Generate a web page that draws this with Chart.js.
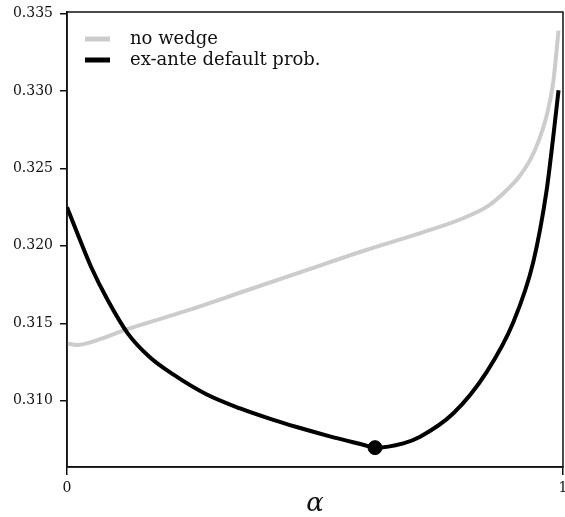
<!DOCTYPE html>
<meta charset="utf-8">
<html lang="en">
<head>
  <title>wedge vs alpha</title>
  <style type="text/css">
  html, body { margin: 0; padding: 0; background: #fff; }
  #wrap { width: 565px; height: 517px; }
  </style>
</head>
<body>
<div id="wrap">
  <canvas id="myChart"></canvas>
</div>

<script src="https://cdn.jsdelivr.net/npm/chart.js"></script>
<script>
  // values
  const seriesNames = ['no wedge', 'ex-ante default prob.'];
  const alphaNoWedge = [0, 0.02, 0.06, 0.12, 0.24, 0.36, 0.48, 0.6, 0.72, 0.8, 0.85, 0.88, 0.91, 0.933, 0.95, 0.967, 0.98, 0.991];
  const noWedge = [0.3137, 0.3136, 0.3139, 0.3146, 0.3158, 0.3171, 0.3184, 0.3197, 0.3209, 0.3218, 0.3226, 0.3234, 0.3244, 0.3255, 0.3267, 0.3284, 0.3305, 0.3339];
  const alphaExAnte = [0, 0.0216, 0.0484, 0.082, 0.1224, 0.1659, 0.214, 0.282, 0.349, 0.416, 0.463, 0.53, 0.597, 0.621, 0.678, 0.712, 0.779, 0.846, 0.9, 0.94, 0.967, 0.98, 0.991];
  const exAnte = [0.3225, 0.32075, 0.31865, 0.3165, 0.31435, 0.31284, 0.3117, 0.3104, 0.3095, 0.30876, 0.3083, 0.3077, 0.30716, 0.30697, 0.30725, 0.30768, 0.30919, 0.31185, 0.31508, 0.31895, 0.32359, 0.32695, 0.33005];
  const optAlpha = [0.621];
  const optValue = [0.30697];
  const xTicks = [0, 1];
  const yTicks = [0.310, 0.315, 0.320, 0.325, 0.330, 0.335];

  const GRAY = '#cccccc';
  const INK = '#000000';
  const SERIF = "'DejaVu Serif', serif";

  function pts(xs, ys) {
    return xs.map((x, i) => ({x: x, y: ys[i]}));
  }

  // legend drawn inside the plot area, top left
  const innerLegend = {
    id: 'innerLegend',
    afterDatasetsDraw(chart) {
      const c = chart.ctx, a = chart.chartArea;
      const cols = [GRAY, INK];
      c.save();
      c.font = '18px ' + SERIF;
      c.textBaseline = 'middle';
      for (let i = 0; i < seriesNames.length; i++) {
        const y = a.top + 27 + i * 21;
        c.fillStyle = cols[i];
        c.fillRect(a.left + 18, y - 2.5, 25, 5);
        c.fillStyle = '#111';
        c.fillText(seriesNames[i], a.left + 63, y);
      }
      c.restore();
    }
  };

  // box round the plot
  const frame = {
    id: 'frame',
    afterDraw(chart) {
      const c = chart.ctx, a = chart.chartArea;
      c.save();
      c.strokeStyle = '#111';
      c.lineWidth = 1.5;
      c.strokeRect(a.left, a.top, a.right - a.left, a.bottom - a.top);
      c.restore();
    }
  };

  const ctx = document.getElementById('myChart');
  const chart = new Chart(ctx, {
    type: 'scatter',
    data: {
      datasets: [{
        label: seriesNames[0],
        data: pts(alphaNoWedge, noWedge),
        borderColor: GRAY,
        backgroundColor: GRAY,
        borderWidth: 4,
        pointRadius: 0,
        showLine: true,
        cubicInterpolationMode: 'monotone',
        order: 2
      }, {
        label: seriesNames[1],
        data: pts(alphaExAnte, exAnte),
        borderColor: INK,
        backgroundColor: INK,
        borderWidth: 4,
        pointRadius: 0,
        showLine: true,
        cubicInterpolationMode: 'monotone',
        order: 1
      }, {
        label: 'optimum',
        data: pts(optAlpha, optValue),
        backgroundColor: INK,
        borderColor: INK,
        pointRadius: 7,
        order: 0
      }]
    },
    options: {
      responsive: true,
      maintainAspectRatio: false,
      animation: false,
      layout: { autoPadding: false, padding: { top: 12, right: 2, left: 0, bottom: 0 } },
      plugins: { legend: { display: false }, tooltip: { enabled: false } },
      scales: {
        x: {
          type: 'linear',
          min: 0, max: 1,
          afterBuildTicks: (axis) => { axis.ticks = xTicks.map(v => ({value: v})); },
          afterFit: (axis) => { axis.height = 50; axis.paddingLeft = 0; axis.paddingRight = 0; },
          grid: { display: true, drawOnChartArea: false, drawTicks: true, tickLength: 8, color: '#111', lineWidth: 1.5 },
          border: { display: true, color: '#111', width: 1.5 },
          ticks: { color: '#111', padding: 5, maxRotation: 0, font: { family: SERIF, size: 14 } },
          title: { display: true, text: 'α', color: '#111', padding: { top: 0, bottom: -3 },
                   font: { family: SERIF, size: 26, style: 'italic' } }
        },
        y: {
          type: 'linear',
          min: 0.30572, max: 0.3351,
          afterBuildTicks: (axis) => { axis.ticks = yTicks.map(v => ({value: v})); },
          afterFit: (axis) => { axis.width = 67; axis.paddingTop = 0; axis.paddingBottom = 0; },
          grid: { display: true, drawOnChartArea: false, drawTicks: true, tickLength: 7, color: '#111', lineWidth: 1.5 },
          border: { display: true, color: '#111', width: 1.5 },
          ticks: { color: '#111', padding: 7, font: { family: SERIF, size: 14 },
                   callback: (v) => v.toFixed(3) }
        }
      }
    },
    plugins: [innerLegend, frame]
  });
</script>
</body>
</html>
